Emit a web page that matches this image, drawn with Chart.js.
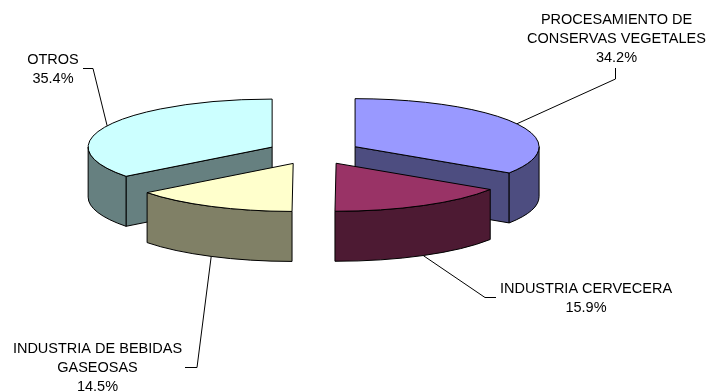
<!DOCTYPE html>
<html>
<head>
<meta charset="utf-8">
<script src="https://cdn.jsdelivr.net/npm/chart.js@4.4.1/dist/chart.umd.min.js"></script>
<style>
  html, body { margin: 0; padding: 0; background: #fff; }
  #wrap { width: 711px; height: 392px; }
</style>
</head>
<body>
<div id="wrap"><canvas id="PieChart" width="711" height="392"></canvas></div>
<script>
// data
const sectors = ['PROCESAMIENTO DE CONSERVAS VEGETALES', 'INDUSTRIA CERVECERA', 'INDUSTRIA DE BEBIDAS GASEOSAS', 'OTROS'];
const sectorLines = [['PROCESAMIENTO DE', 'CONSERVAS VEGETALES'], ['INDUSTRIA CERVECERA'], ['INDUSTRIA DE BEBIDAS', 'GASEOSAS'], ['OTROS']];
const shares = [34.2, 15.9, 14.5, 35.4];

// colours (top face / side face)
const topColors = ['#9999FF', '#993366', '#FFFFCC', '#CCFFFF'];
const sideColors = ['#4D4D80', '#4D1A33', '#808066', '#668080'];

// where each label sits (centre x, first baseline) and the leader bend next to it
const labelBoxes = [
    { x: 616.5, y: 23.5, leader: [[615.5, 68], [615.5, 79]] },
    { x: 586, y: 293, leader: [[496, 297.5], [485, 297.5]] },
    { x: 97.5, y: 353, leader: [[185, 367.5], [197, 367.5]] },
    { x: 53, y: 64, leader: [[83, 68.5], [93, 68.5]] }
];

function drawSlice(ctx, s, depth, top, side) {
    ctx.lineWidth = 1;
    ctx.strokeStyle = '#000';
    ctx.lineJoin = 'round';

    // radial cut faces
    const edges = [];
    if (Math.cos(s.a0) < -0.01) edges.push(s.a0);
    if (Math.cos(s.a1) > 0.01) edges.push(s.a1);
    edges.forEach(a => {
        const ex = s.cx + Math.cos(a) * s.r, ey = s.cy + Math.sin(a) * s.ry;
        ctx.beginPath();
        ctx.moveTo(s.cx, s.cy);
        ctx.lineTo(ex, ey);
        ctx.lineTo(ex, ey + depth);
        ctx.lineTo(s.cx, s.cy + depth);
        ctx.closePath();
        ctx.fillStyle = side;
        ctx.fill();
        ctx.stroke();
    });

    // outer rim, front half only
    const t0 = Math.max(s.a0, 0), t1 = Math.min(s.a1, Math.PI);
    if (t1 > t0) {
        ctx.beginPath();
        ctx.ellipse(s.cx, s.cy, s.r, s.ry, 0, t0, t1);
        ctx.lineTo(s.cx + Math.cos(t1) * s.r, s.cy + Math.sin(t1) * s.ry + depth);
        ctx.ellipse(s.cx, s.cy + depth, s.r, s.ry, 0, t1, t0, true);
        ctx.closePath();
        ctx.fillStyle = side;
        ctx.fill();
        ctx.stroke();
    }

    // top face
    ctx.beginPath();
    ctx.moveTo(s.cx, s.cy);
    ctx.ellipse(s.cx, s.cy, s.r, s.ry, 0, s.a0, s.a1);
    ctx.closePath();
    ctx.fillStyle = top;
    ctx.fill();
    ctx.stroke();
}

const pie3d = {
    id: 'pie3d',
    beforeDatasetsDraw(chart, args, opts) {
        const ctx = chart.ctx;
        const arcs = chart.getDatasetMeta(0).data;
        const slices = arcs.map((arc, i) => {
            const p = arc.getProps(['x', 'y', 'startAngle', 'endAngle', 'outerRadius']);
            const mid = (p.startAngle + p.endAngle) / 2;
            return {
                i, mid, a0: p.startAngle, a1: p.endAngle,
                r: p.outerRadius, ry: p.outerRadius * opts.tilt,
                cx: p.x + Math.cos(mid) * opts.explode,
                cy: p.y + Math.sin(mid) * opts.explode * opts.tilt
            };
        });

        ctx.save();
        // back slices first
        slices.slice().sort((a, b) => Math.sin(a.mid) - Math.sin(b.mid))
            .forEach(s => drawSlice(ctx, s, opts.depth, topColors[s.i], sideColors[s.i]));

        // labels + leader lines
        ctx.font = '14.5px "Liberation Sans", Arial, sans-serif';
        ctx.textAlign = 'center';
        ctx.textBaseline = 'alphabetic';
        ctx.fillStyle = '#000';
        slices.forEach(s => {
            const box = labelBoxes[s.i];
            const lines = sectorLines[s.i].concat([shares[s.i].toFixed(1) + '%']);
            lines.forEach((t, k) => ctx.fillText(t, box.x, box.y + k * 19));

            const front = Math.sin(s.mid) > 0;
            const ax = s.cx + Math.cos(s.mid) * s.r;
            const ay = s.cy + Math.sin(s.mid) * s.ry + (front ? opts.depth : 0);
            ctx.beginPath();
            ctx.moveTo(box.leader[0][0], box.leader[0][1]);
            ctx.lineTo(box.leader[1][0], box.leader[1][1]);
            ctx.lineTo(ax, ay);
            ctx.lineWidth = 1;
            ctx.strokeStyle = '#000';
            ctx.stroke();
        });
        ctx.restore();
        return false;
    }
};

const ctx = document.getElementById('PieChart').getContext('2d');
new Chart(ctx, {
    type: 'pie',
    data: {
        labels: sectors,
        datasets: [{
            data: shares,
            backgroundColor: topColors,
            borderColor: '#000',
            borderWidth: 1
        }]
    },
    options: {
        responsive: false,
        animation: false,
        events: [],
        radius: 184,
        layout: { padding: { left: 0, right: 83, top: 0, bottom: 87 } },
        plugins: {
            legend: { display: false },
            tooltip: { enabled: false },
            pie3d: { tilt: 0.261, depth: 50, explode: 46.7 }
        }
    },
    plugins: [pie3d]
});
</script>
</body>
</html>
